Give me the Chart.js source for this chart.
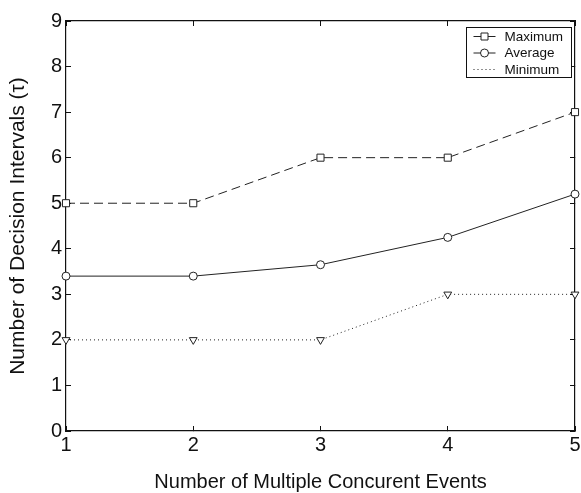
<!DOCTYPE html>
<html>
<head>
<meta charset="utf-8">
<script src="https://cdn.jsdelivr.net/npm/chart.js@4/dist/chart.umd.min.js"></script>
<style>
  html, body { margin: 0; padding: 0; background: #fff; }
  #wrap { width: 581px; height: 493px; }
</style>
</head>
<body>
<div id="wrap"><canvas id="chart"></canvas></div>
<script>
const events = [1, 2, 3, 4, 5];
const maximum = [5, 5, 6, 6, 7];
const average = [3.4, 3.4, 3.65, 4.25, 5.2];
const minimum = [2, 2, 2, 3, 3];

const FONT = "'Liberation Sans', Arial, Helvetica, sans-serif";
const INK = "#222";

function points(values) {
  return events.map((x, i) => ({ x, y: values[i] }));
}

// boxed legend in the upper right corner, line sample with marker in the middle
const boxLegend = {
  id: "boxLegend",
  afterDraw(chart) {
    const ctx = chart.ctx;
    const area = chart.chartArea;
    const w = 105, h = 50;
    const left = Math.round(area.right - 4 - w) + 0.5;
    const top = Math.round(area.top + 6) + 0.5;
    ctx.save();
    ctx.fillStyle = "#fff";
    ctx.fillRect(left, top, w, h);
    ctx.strokeStyle = "#111";
    ctx.lineWidth = 1;
    ctx.strokeRect(left, top, w, h);
    chart.data.datasets.forEach((ds, i) => {
      const y = top + 9 + i * 16.5;
      ctx.strokeStyle = ds.borderColor;
      ctx.lineWidth = 1;
      ctx.setLineDash(ds.borderDash || []);
      ctx.beginPath();
      ctx.moveTo(left + 7, y);
      ctx.lineTo(left + 29, y);
      ctx.stroke();
      ctx.setLineDash([]);
      const mx = left + 18;
      if (ds.showMarkerInLegend) {
        ctx.fillStyle = "#fff";
        ctx.beginPath();
        if (ds.pointStyle === "rect") {
          ctx.rect(mx - 3.5, y - 3.5, 7, 7);
        } else if (ds.pointStyle === "circle") {
          ctx.arc(mx, y, 4, 0, Math.PI * 2);
        }
        ctx.fill();
        ctx.stroke();
      }
      ctx.fillStyle = "#111";
      ctx.font = "13.5px " + FONT;
      ctx.textBaseline = "middle";
      ctx.textAlign = "left";
      ctx.fillText(ds.label, left + 38, y + 0.5);
    });
    ctx.restore();
  },
};

const inward = {
  display: true,
  drawOnChartArea: false,
  drawTicks: true,
  tickLength: -5,
  color: "#111",
  lineWidth: 1,
};
const frame = { display: true, color: "#111", width: 1.2 };

new Chart(document.getElementById("chart"), {
  type: "line",
  data: {
    datasets: [
      {
        label: "Maximum",
        data: points(maximum),
        borderColor: INK,
        borderWidth: 1,
        borderDash: [9, 5],
        pointStyle: "rect",
        pointRadius: 5,
        pointBackgroundColor: "#fff",
        pointBorderColor: INK,
        pointBorderWidth: 1,
        showMarkerInLegend: true,
        clip: false,
      },
      {
        label: "Average",
        data: points(average),
        borderColor: INK,
        borderWidth: 1,
        pointStyle: "circle",
        pointRadius: 4,
        pointBackgroundColor: "#fff",
        pointBorderColor: INK,
        pointBorderWidth: 1,
        showMarkerInLegend: true,
        clip: false,
      },
      {
        label: "Minimum",
        data: points(minimum),
        borderColor: INK,
        borderWidth: 1,
        borderDash: [1, 3],
        pointStyle: "triangle",
        pointRotation: 180,
        pointRadius: 4.5,
        pointBackgroundColor: "#fff",
        pointBorderColor: INK,
        pointBorderWidth: 1,
        showMarkerInLegend: false,
        clip: false,
      },
    ],
  },
  options: {
    responsive: true,
    maintainAspectRatio: false,
    animation: false,
    layout: { padding: { top: 21, right: 4, left: 0, bottom: 0 } },
    elements: { line: { tension: 0 } },
    scales: {
      x: {
        type: "linear",
        position: "bottom",
        min: 1,
        max: 5,
        grid: inward,
        border: frame,
        ticks: {
          stepSize: 1,
          padding: 7,
          color: "#111",
          font: { family: FONT, size: 20 },
        },
        title: {
          display: true,
          text: "Number of Multiple Concurent Events",
          color: "#111",
          font: { family: FONT, size: 20, lineHeight: 1.05 },
          padding: { top: 0, bottom: 0 },
        },
        afterFit(scale) {
          scale.height = 62;
          scale.paddingLeft = 0;
          scale.paddingRight = 0;
        },
      },
      x2: {
        type: "linear",
        position: "top",
        min: 1,
        max: 5,
        grid: inward,
        border: frame,
        ticks: { stepSize: 1, display: false },
        afterFit(scale) {
          scale.height = 0;
          scale.paddingLeft = 0;
          scale.paddingRight = 0;
        },
      },
      y: {
        position: "left",
        min: 0,
        max: 9,
        grid: inward,
        border: frame,
        ticks: {
          stepSize: 1,
          padding: 9,
          color: "#111",
          font: { family: FONT, size: 20 },
        },
        title: {
          display: true,
          text: "Number of Decision Intervals (τ)",
          color: "#111",
          font: { family: FONT, size: 21, lineHeight: 1 },
          padding: { top: 8, bottom: 0 },
        },
        afterFit(scale) {
          scale.width = 66;
        },
      },
      y2: {
        position: "right",
        min: 0,
        max: 9,
        grid: inward,
        border: frame,
        ticks: { stepSize: 1, display: false },
        afterFit(scale) {
          scale.width = 0;
        },
      },
    },
    plugins: {
      legend: { display: false },
      tooltip: { enabled: false },
    },
  },
  plugins: [boxLegend],
});
</script>
</body>
</html>
